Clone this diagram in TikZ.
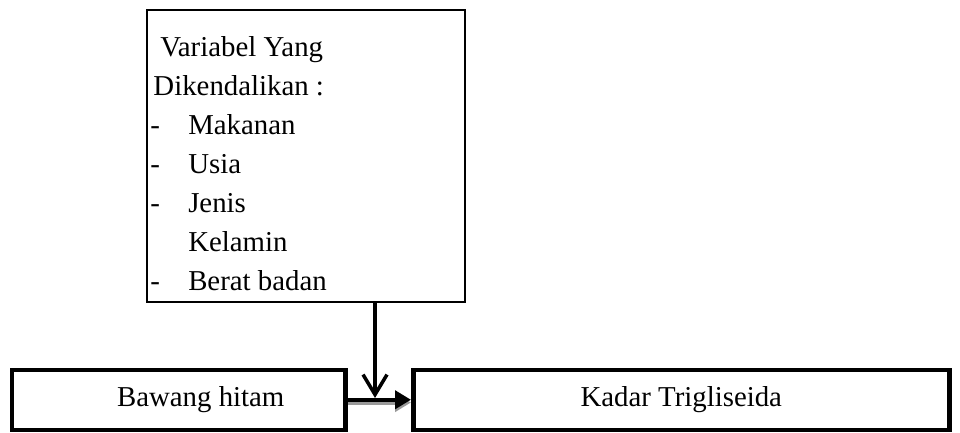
\documentclass[tikz,border=0pt]{standalone}
\usepackage{fontspec}
\setmainfont{Liberation Serif}
\usetikzlibrary{arrows.meta, positioning}

\tikzset{
    kotak/.style={draw=black, line width=3.2pt, minimum height=1.5cm, anchor=south west, inner sep=0pt},
    panah/.style={line width=3pt, -{Triangle[length=0.4cm, width=0.45cm]}},
    bayang/.style={draw=black!40, line width=3pt, -{Triangle[length=0.4cm, width=0.45cm]}},
}

\begin{document}
\begin{tikzpicture}[font=\fontsize{20.5}{27.7}\selectfont]
    \useasboundingbox (0,0) rectangle (24,10.8);
    % kotak variabel yang dikendalikan
    \node[draw=black, line width=2.1pt, minimum width=7.95cm, minimum height=7.3cm] (kendali) at (7.65,6.9) {};
    \node[anchor=base west, inner sep=0pt] (isi) at (3.75,9.375) {%
        \renewcommand{\arraystretch}{1}%
        \begin{tabular}[t]{@{}p{0.95cm}@{}l@{}}
            \multicolumn{2}{@{\hspace{0.25cm}}l@{}}{Variabel Yang}\\
            \multicolumn{2}{@{\hspace{0.08cm}}l@{}}{Dikendalikan :}\\
            - & Makanan\\
            - & Usia\\
            - & Jenis\\
              & Kelamin\\
            - & Berat badan
        \end{tabular}};
    % kotak bawah
    \node[kotak, minimum width=8.325cm] (bawang) at (0.25,0) {\hspace*{1.1cm}Bawang hitam};
    \node[kotak, minimum width=13.4cm] (kadar) at (10.275,0) {Kadar Trigliseida};
    % panah
    \coordinate (temu) at (9.375,0.85);
    \draw[bayang] ([yshift=-0.07cm]bawang.east) -- ([yshift=-0.07cm]kadar.west);
    \draw[panah] (bawang.east) -- (kadar.west);
    \draw[line width=2.5pt, -{Straight Barb[length=0.5cm, width=0.6cm]}] (kendali.south -| temu) -- (temu);
\end{tikzpicture}
\end{document}
